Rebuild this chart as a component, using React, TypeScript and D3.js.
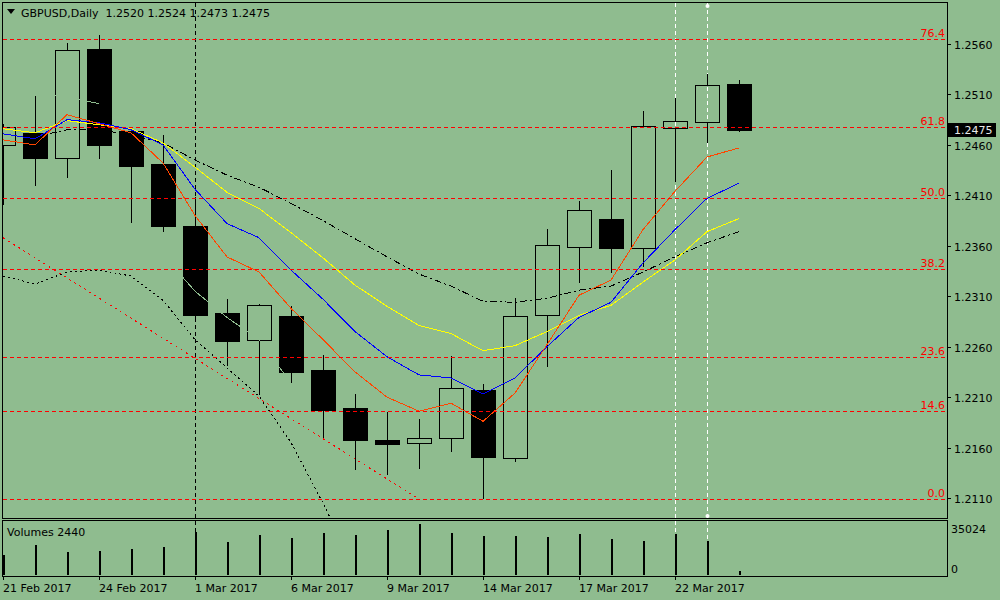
import React, { useEffect, useRef } from "react";
import * as d3 from "d3";

// daily bars, 21 Feb .. 24 Mar 2017
const barDates = [
  "21 Feb 2017", "22 Feb 2017", "23 Feb 2017", "24 Feb 2017", "27 Feb 2017", "28 Feb 2017",
  "1 Mar 2017", "2 Mar 2017", "3 Mar 2017", "6 Mar 2017", "7 Mar 2017", "8 Mar 2017",
  "9 Mar 2017", "10 Mar 2017", "13 Mar 2017", "14 Mar 2017", "15 Mar 2017", "16 Mar 2017",
  "17 Mar 2017", "20 Mar 2017", "21 Mar 2017", "22 Mar 2017", "23 Mar 2017", "24 Mar 2017",
];
const openPrices = [
  1.2460, 1.2472, 1.2447, 1.2555, 1.2474, 1.2441, 1.2380, 1.2293, 1.2267, 1.2290, 1.2237, 1.2199,
  1.2167, 1.2165, 1.2169, 1.2217, 1.2150, 1.2291, 1.2359, 1.2387, 1.2358, 1.2477, 1.2483, 1.2520,
];
const highPrices = [
  1.2481, 1.2508, 1.2561, 1.2569, 1.2478, 1.2470, 1.2408, 1.2307, 1.2302, 1.2300, 1.2252, 1.2213,
  1.2195, 1.2188, 1.2251, 1.2223, 1.2308, 1.2377, 1.2404, 1.2435, 1.2494, 1.2506, 1.2530, 1.2524,
];
const lowPrices = [
  1.2400, 1.2419, 1.2427, 1.2446, 1.2383, 1.2374, 1.2285, 1.2241, 1.2212, 1.2224, 1.2168, 1.2138,
  1.2133, 1.2139, 1.2156, 1.2109, 1.2146, 1.2240, 1.2323, 1.2333, 1.2339, 1.2423, 1.2462, 1.2473,
];
const closePrices = [
  1.2478, 1.2447, 1.2554, 1.2460, 1.2439, 1.2380, 1.2291, 1.2266, 1.2301, 1.2235, 1.2197, 1.2167,
  1.2164, 1.2169, 1.2219, 1.2151, 1.2290, 1.2361, 1.2395, 1.2358, 1.2479, 1.2484, 1.2519, 1.2475,
];
const volumes = [
  13740, 20600, 15800, 16480, 17860, 19230, 29530, 22660, 27470, 25410, 28840, 27470,
  30900, 35024, 28840, 26780, 26780, 26100, 28160, 24720, 23350, 28160, 23350, 2440,
];

// moving averages
const maRed = [
  1.2465, 1.2460, 1.2490, 1.2481, 1.2472, 1.2442, 1.2390, 1.2349, 1.2334, 1.2298, 1.2267, 1.2235,
  1.2210, 1.2196, 1.2204, 1.2186, 1.2214, 1.2262, 1.2311, 1.2326, 1.2376, 1.2414, 1.2448, 1.2457,
];
const maBlue = [
  1.2471, 1.2466, 1.2485, 1.2482, 1.2475, 1.2460, 1.2416, 1.2382, 1.2368, 1.2336, 1.2307, 1.2275,
  1.2250, 1.2232, 1.2229, 1.2213, 1.2229, 1.2260, 1.2289, 1.2304, 1.2343, 1.2376, 1.2407, 1.2422,
];
const maYellow = [
  1.2476, 1.2472, 1.2484, 1.2480, 1.2476, 1.2462, 1.2438, 1.2413, 1.2397, 1.2373, 1.2348, 1.2321,
  1.2300, 1.2281, 1.2273, 1.2256, 1.2261, 1.2275, 1.2291, 1.2301, 1.2324, 1.2346, 1.2374, 1.2387,
];
const maBlack = [
  null, 1.2468, 1.2475, 1.2475, 1.2470, 1.2462, 1.2445, 1.2430, 1.2418, 1.2402, 1.2385, 1.2367,
  1.2349, 1.2332, 1.2320, 1.2305, 1.2304, 1.2308, 1.2316, 1.2320, 1.2334, 1.2349, 1.2363, 1.2374,
];
// black dotted line on the left
const dottedLine = [
  1.2330, 1.2322, 1.2334, 1.2336, 1.2330, 1.2306, 1.2267, 1.2239, 1.2211, 1.2165, 1.2105, 1.2039,
];
// line in chart colour, only shows over the black bodies
const faintLine = [null, 1.2513, 1.2507, 1.2501, null, 1.2351, 1.2315, 1.2289, 1.2267, 1.2224];

const trendBars = [0, 13];
const trendPrices = [1.2368, 1.2109];

const fibLow = 1.2109;
const fibHigh = 1.2706;
const fibLevels = [0, 14.6, 23.6, 38.2, 50.0, 61.8, 76.4];

const priceTicks = [1.2110, 1.2160, 1.2210, 1.2260, 1.2310, 1.2360, 1.2410, 1.2460, 1.2510, 1.2560];
const volumeTicks = [0, 35024];
const dateLabelBars = [0, 3, 6, 9, 12, 15, 18, 21];
const blackVLineBar = 6;
const whiteVLineBars = [21, 22];

const title = "GBPUSD,Daily  1.2520 1.2524 1.2473 1.2475";
const volumeTitle = "Volumes 2440";
const lastPrice = 1.2475;

const BG = "#8FBC8F";
const FONT = "DejaVu Sans, sans-serif";

const App = () => {
  const svgRef = useRef(null);
  const width = 1000;
  const height = 600;

  useEffect(() => {
    const svg = d3.select(svgRef.current);
    svg.selectAll("*").remove();

    const left = 3;
    const right = 947;
    const mainTop = 3;
    const mainBottom = 518;
    const volTop = 521;
    const volBottom = 576;

    const x = d3.scaleLinear().domain([0, 23]).range([3, 739]);
    const y = d3.scaleLinear().domain([1.211, 1.256]).range([498, 44]);
    const yv = d3.scaleLinear().domain([0, 35024]).range([575, 524]);

    svg.append("rect").attr("width", width).attr("height", height).attr("fill", BG);

    const defs = svg.append("defs");
    defs
      .append("clipPath")
      .attr("id", "mainClip")
      .append("rect")
      .attr("x", left)
      .attr("y", mainTop)
      .attr("width", right - left)
      .attr("height", mainBottom - mainTop);
    defs
      .append("clipPath")
      .attr("id", "volClip")
      .append("rect")
      .attr("x", left)
      .attr("y", volTop)
      .attr("width", right - left)
      .attr("height", volBottom - volTop);

    const g = svg.append("g").attr("shape-rendering", "crispEdges");

    // vertical marker lines, across both panels
    g.append("line")
      .attr("x1", x(blackVLineBar) + 0.5)
      .attr("x2", x(blackVLineBar) + 0.5)
      .attr("y1", mainTop)
      .attr("y2", volBottom)
      .attr("stroke", "#000")
      .attr("stroke-dasharray", "4,3");
    whiteVLineBars.forEach((b) => {
      g.append("line")
        .attr("x1", x(b) + 0.5)
        .attr("x2", x(b) + 0.5)
        .attr("y1", mainTop)
        .attr("y2", volBottom)
        .attr("stroke", "#fff")
        .attr("stroke-dasharray", "4,3");
    });

    // volumes
    const vol = g.append("g").attr("clip-path", "url(#volClip)");
    vol
      .selectAll(".vbar")
      .data(volumes)
      .enter()
      .append("line")
      .attr("x1", (d, i) => x(i) + 0.5)
      .attr("x2", (d, i) => x(i) + 0.5)
      .attr("y1", yv(0))
      .attr("y2", (d) => yv(d))
      .attr("stroke", "#000")
      .attr("stroke-width", 2);

    // candles
    const main = g.append("g").attr("clip-path", "url(#mainClip)");
    const half = 12;
    openPrices.forEach((o, i) => {
      const c = closePrices[i];
      const bull = c >= o;
      const cx = x(i) + 0.5;
      const top = Math.round(y(Math.max(o, c)));
      const bot = Math.round(y(Math.min(o, c)));
      if (bull) {
        main.append("line").attr("x1", cx).attr("x2", cx)
          .attr("y1", y(highPrices[i])).attr("y2", top).attr("stroke", "#000");
        main.append("line").attr("x1", cx).attr("x2", cx)
          .attr("y1", bot).attr("y2", y(lowPrices[i])).attr("stroke", "#000");
      } else {
        main.append("line").attr("x1", cx).attr("x2", cx)
          .attr("y1", y(highPrices[i])).attr("y2", y(lowPrices[i])).attr("stroke", "#000");
      }
      main
        .append("rect")
        .attr("x", x(i) - half + 0.5)
        .attr("y", top + 0.5)
        .attr("width", half * 2)
        .attr("height", Math.max(bot - top, 1))
        .attr("fill", bull ? "none" : "#000")
        .attr("stroke", "#000");
    });

    const line = d3
      .line<any>()
      .defined((d) => d != null)
      .x((d, i) => x(i))
      .y((d) => y(d));

    main.append("path").datum(faintLine).attr("d", line)
      .attr("fill", "none").attr("stroke", BG);

    main.append("path").datum(dottedLine).attr("d", line)
      .attr("fill", "none").attr("stroke", "#000").attr("stroke-dasharray", "2,3");

    main.append("line")
      .attr("x1", x(trendBars[0])).attr("y1", y(trendPrices[0]))
      .attr("x2", x(trendBars[1])).attr("y2", y(trendPrices[1]))
      .attr("stroke", "#FF0000").attr("stroke-dasharray", "2,4");

    main.append("path").datum(maBlack).attr("d", line)
      .attr("fill", "none").attr("stroke", "#000").attr("stroke-dasharray", "7,3,2,3");
    main.append("path").datum(maYellow).attr("d", line)
      .attr("fill", "none").attr("stroke", "#FFFF00");
    main.append("path").datum(maBlue).attr("d", line)
      .attr("fill", "none").attr("stroke", "#0000FF");
    main.append("path").datum(maRed).attr("d", line)
      .attr("fill", "none").attr("stroke", "#FF4500");

    // fibonacci levels
    fibLevels.forEach((lv) => {
      const py = Math.round(y(fibLow + (lv / 100) * (fibHigh - fibLow))) + 0.5;
      main.append("line")
        .attr("x1", left).attr("x2", right)
        .attr("y1", py).attr("y2", py)
        .attr("stroke", "#FF0000").attr("stroke-dasharray", "4,3");
      svg.append("text")
        .attr("x", right - 2).attr("y", py - 3)
        .attr("text-anchor", "end")
        .attr("fill", "#FF0000")
        .style("font", `11px ${FONT}`)
        .text(lv.toFixed(1));
    });

    // white points on the second marker line
    [mainTop + 3, mainBottom - 2].forEach((py) => {
      svg.append("circle")
        .attr("cx", x(whiteVLineBars[1]) + 0.5).attr("cy", py)
        .attr("r", 2).attr("fill", "#fff");
    });

    // panel frames
    g.append("rect").attr("x", left - 0.5).attr("y", mainTop - 0.5)
      .attr("width", right - left + 1).attr("height", mainBottom - mainTop + 1)
      .attr("fill", "none").attr("stroke", "#000");
    g.append("rect").attr("x", left - 0.5).attr("y", volTop - 0.5)
      .attr("width", right - left + 1).attr("height", volBottom - volTop + 1)
      .attr("fill", "none").attr("stroke", "#000");

    // price axis
    priceTicks.forEach((t) => {
      const py = Math.round(y(t)) + 0.5;
      g.append("line").attr("x1", right).attr("x2", right + 4)
        .attr("y1", py).attr("y2", py).attr("stroke", "#000");
      svg.append("text").attr("x", right + 7).attr("y", py + 4)
        .attr("fill", "#000").style("font", `11px ${FONT}`).text(t.toFixed(4));
    });
    const ly = Math.round(y(lastPrice));
    g.append("rect").attr("x", right + 1).attr("y", ly - 7)
      .attr("width", 48).attr("height", 14).attr("fill", "#000");
    svg.append("text").attr("x", right + 7).attr("y", ly + 4)
      .attr("fill", "#E8E8E8").style("font", `11px ${FONT}`).text(lastPrice.toFixed(4));

    // volume axis
    volumeTicks.forEach((t) => {
      svg.append("text").attr("x", right + 4).attr("y", t === 0 ? 573 : 533)
        .attr("fill", "#000").style("font", `11px ${FONT}`).text(String(t));
    });

    // date axis
    dateLabelBars.forEach((b) => {
      g.append("line").attr("x1", x(b) + 0.5).attr("x2", x(b) + 0.5)
        .attr("y1", volBottom).attr("y2", volBottom + 4).attr("stroke", "#000");
      svg.append("text").attr("x", x(b)).attr("y", 592)
        .attr("fill", "#000").style("font", `11px ${FONT}`).text(barDates[b]);
    });

    // titles
    svg.append("path").attr("d", "M7,9 L15,9 L11,14 Z").attr("fill", "#000");
    svg.append("text").attr("x", 21).attr("y", 17)
      .attr("fill", "#000").style("font", `11px ${FONT}`).style("white-space", "pre")
      .text(title);
    svg.append("text").attr("x", 7).attr("y", 536)
      .attr("fill", "#000").style("font", `11px ${FONT}`).text(volumeTitle);
  }, []);

  return (
    <svg
      ref={svgRef}
      width={width}
      height={height}
      style={{ position: "absolute", left: 0, top: 0, display: "block" }}
    />
  );
};

export default App;
